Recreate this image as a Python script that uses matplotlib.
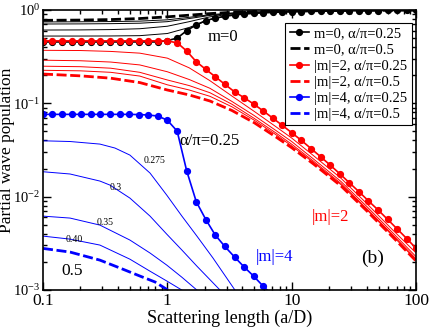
import matplotlib
matplotlib.use('Agg')
import matplotlib.pyplot as plt
from matplotlib.ticker import LogLocator, NullFormatter

plt.rcParams['font.family'] = ['Liberation Serif', 'DejaVu Serif']
plt.rcParams['mathtext.fontset'] = 'custom'
plt.rcParams['mathtext.rm'] = 'Liberation Serif'
plt.rcParams['mathtext.default'] = 'regular'

# malla de puntos (curvas con marcadores)
x_dots = [0.1, 0.119, 0.143, 0.170, 0.203, 0.243, 0.290, 0.346, 0.413, 0.493,
          0.589, 0.703, 0.839, 1.00, 1.20, 1.43, 1.71, 2.04, 2.43, 2.90,
          3.47, 4.14, 4.94, 5.90, 7.05, 8.42, 10.0, 12.0, 14.3, 17.1,
          20.4, 24.4, 29.1, 34.8, 41.5, 49.6, 59.2, 70.7, 84.4, 100.0]

m0_dots = [0.455] * 13 + [0.47, 0.50, 0.60, 0.695, 0.77, 0.82, 0.855, 0.885, 0.905,
                          0.92, 0.932, 0.942, 0.95, 0.956, 0.961, 0.966, 0.970, 0.974,
                          0.977, 0.980, 0.983, 0.985, 0.987, 0.989, 0.991, 0.993, 0.995]
m2_dots = [0.467] * 13 + [0.465, 0.446, 0.364, 0.279, 0.231, 0.193, 0.160, 0.133, 0.115,
                          0.0985, 0.083, 0.0695, 0.058, 0.0485, 0.0400, 0.0328, 0.0268,
                          0.0218, 0.0176, 0.0141, 0.0113, 0.0090, 0.0072, 0.0057,
                          0.00450, 0.00355, 0.00280]
m4_dots = [0.0762] * 10 + [0.0758, 0.075, 0.0731, 0.066, 0.0504, 0.0190, 0.00882,
                           0.00569, 0.00388, 0.00293, 0.00226, 0.00177, 0.00141,
                           0.00110, 0.00087]

# curvas finas m=0 y |m|=2 (alfa/pi = 0.275, 0.3, 0.35, 0.40) y discontinuas (0.5)
x_thin = [0.1, 0.2, 0.35, 0.6, 1.0, 1.5, 2.2, 3.3, 5, 7.5, 10, 15, 25, 40, 65, 100]

m0_thin = [
    [0.526, 0.526, 0.527, 0.531, 0.56, 0.65, 0.79, 0.885, 0.93, 0.952, 0.963, 0.975, 0.984, 0.989, 0.993, 0.996],
    [0.61, 0.612, 0.617, 0.63, 0.67, 0.75, 0.845, 0.905, 0.94, 0.958, 0.967, 0.977, 0.985, 0.990, 0.993, 0.996],
    [0.708, 0.71, 0.714, 0.722, 0.75, 0.81, 0.875, 0.92, 0.948, 0.962, 0.97, 0.979, 0.986, 0.990, 0.994, 0.996],
    [0.745, 0.748, 0.752, 0.76, 0.785, 0.835, 0.89, 0.93, 0.952, 0.965, 0.972, 0.98, 0.987, 0.991, 0.994, 0.996],
]
m0_dash = [0.775, 0.78, 0.79, 0.81, 0.845, 0.88, 0.915, 0.945, 0.962, 0.972, 0.978, 0.985, 0.99, 0.993, 0.995, 0.997]

m2_thin = [
    [0.37, 0.368, 0.36, 0.345, 0.305, 0.24, 0.175, 0.12, 0.082, 0.056, 0.0425, 0.0275, 0.0157, 0.0085, 0.0044, 0.0025],
    [0.29, 0.286, 0.277, 0.258, 0.218, 0.18, 0.145, 0.105, 0.074, 0.051, 0.0390, 0.0253, 0.0145, 0.0079, 0.0041, 0.00228],
    [0.25, 0.247, 0.238, 0.215, 0.178, 0.155, 0.13, 0.098, 0.069, 0.048, 0.0365, 0.0240, 0.0138, 0.0075, 0.0039, 0.00216],
    [0.226, 0.223, 0.215, 0.196, 0.158, 0.139, 0.119, 0.092, 0.066, 0.046, 0.0350, 0.0232, 0.0134, 0.0073, 0.0038, 0.00210],
]
m2_dash = [0.206, 0.197, 0.186, 0.167, 0.139, 0.123, 0.106, 0.084, 0.062, 0.0435, 0.0335, 0.0224, 0.0130, 0.0071, 0.0037, 0.00205]

# curvas finas |m|=4
m4_thin_x = [
    [0.1, 0.165, 0.287, 0.379, 0.50, 0.726, 0.989, 1.31, 1.73, 2.33, 3.5, 4.63],
    [0.1, 0.165, 0.287, 0.346, 0.50, 0.726, 0.989, 1.31, 1.73, 2.655, 3.845],
    [0.1, 0.165, 0.287, 0.50, 0.726, 0.989, 1.31, 1.73, 2.42],
    [0.1, 0.165, 0.287, 0.50, 0.726, 0.989, 1.31, 1.83],
]
m4_thin_y = [
    [0.0397, 0.0390, 0.0366, 0.0332, 0.0279, 0.0179, 0.0104, 0.00619, 0.00378, 0.00220, 0.000998, 0.000609],
    [0.0185, 0.0175, 0.0147, 0.0133, 0.00966, 0.00619, 0.00397, 0.00268, 0.00180, 0.000998, 0.000580],
    [0.00619, 0.00590, 0.00496, 0.00343, 0.00249, 0.00185, 0.00137, 0.000998, 0.000689],
    [0.00378, 0.00351, 0.00303, 0.00214, 0.00159, 0.00125, 0.000998, 0.000742],
]
m4_dash_x = [0.1, 0.165, 0.287, 0.416, 0.603, 0.796, 1.01, 1.39]
m4_dash_y = [0.00279, 0.00255, 0.00209, 0.00172, 0.00141, 0.00122, 0.000998, 0.000779]

xticks = [0.1, 1, 10, 100]
xtick_labels = ['0.1', '1', '10', '100']
yticks = [1e-3, 1e-2, 1e-1, 1]
ytick_labels = ['$10^{-3}$', '$10^{-2}$', '$10^{-1}$', '$10^{0}$']

fig = plt.figure(figsize=(4.3, 3.27), dpi=100)
ax = fig.add_axes([0.1, 0.1131, 0.8674, 0.8563])

dash = (3.6, 1.3)

# m = 0 (negro)
for y in m0_thin:
    ax.plot(x_thin, y, color='black', lw=0.7)
ax.plot(x_thin, m0_dash, color='black', lw=2, dashes=dash, label='m=0, α/π=0.5')
ax.plot(x_dots, m0_dots, color='black', lw=1.2, marker='o', ms=4.2,
        label='m=0, α/π=0.25')

# |m| = 2 (rojo)
for y in m2_thin:
    ax.plot(x_thin, y, color='red', lw=0.7)
ax.plot(x_thin, m2_dash, color='red', lw=2, dashes=dash, label='|m|=2, α/π=0.5')
ax.plot(x_dots, m2_dots, color='red', lw=1.2, marker='o', ms=4.2,
        label='|m|=2, α/π=0.25')

# |m| = 4 (azul)
for xs, ys in zip(m4_thin_x, m4_thin_y):
    ax.plot(xs, ys, color='blue', lw=0.7)
ax.plot(m4_dash_x, m4_dash_y, color='blue', lw=2, dashes=dash, label='|m|=4, α/π=0.5')
ax.plot(x_dots[:len(m4_dots)], m4_dots, color='blue', lw=1.2, marker='o', ms=4.2,
        label='|m|=4, α/π=0.25')

ax.set_xscale('log')
ax.set_yscale('log')
ax.set_xlim(0.1, 100)
ax.set_ylim(1e-3, 1)
ax.set_xticks(xticks)
ax.set_xticklabels(xtick_labels)
ax.set_yticks(yticks)
ax.set_yticklabels(ytick_labels)
ax.xaxis.set_minor_locator(LogLocator(base=10, subs=range(2, 10), numticks=20))
ax.yaxis.set_minor_locator(LogLocator(base=10, subs=range(2, 10), numticks=20))
ax.xaxis.set_minor_formatter(NullFormatter())
ax.yaxis.set_minor_formatter(NullFormatter())
ax.tick_params(which='both', direction='in', top=True, right=True, width=1)
ax.tick_params(which='major', length=6)
ax.tick_params(which='minor', length=3)
ax.tick_params(axis='x', labelsize=12.5, pad=2)
ax.tick_params(axis='y', labelsize=10.5, pad=2)
for s in ax.spines.values():
    s.set_linewidth(1.2)

ax.set_xlabel('Scattering length (a/D)', fontsize=13)
ax.set_ylabel('Partial wave population', fontsize=12.5)
ax.xaxis.set_label_coords(0.5, -0.072)
ax.yaxis.set_label_coords(-0.075, 0.5)

# orden de la leyenda como en la figura
h, l = ax.get_legend_handles_labels()
order = [1, 0, 3, 2, 5, 4]
leg = ax.legend([h[i] for i in order], [l[i] for i in order], loc='upper right',
                bbox_to_anchor=(0.989, 0.954), borderaxespad=0, fontsize=10.5,
                handlelength=1.3, handletextpad=0.4, labelspacing=0.2,
                borderpad=0.3, fancybox=False, framealpha=1, edgecolor='black')
leg.get_frame().set_linewidth(0.8)

ax.text(0.4826, 0.9036, 'm=0', transform=ax.transAxes, fontsize=12, ha='center', va='center')
ax.text(0.4477, 0.5321, 'α/π=0.25', transform=ax.transAxes, fontsize=12, ha='center', va='center')
ax.text(0.7694, 0.2607, '|m|=2', transform=ax.transAxes, fontsize=12, ha='center', va='center', color='red')
ax.text(0.622, 0.1179, '|m|=4', transform=ax.transAxes, fontsize=12, ha='center', va='center', color='blue')
ax.text(0.8847, 0.1143, '(b)', transform=ax.transAxes, fontsize=14, ha='center', va='center')
ax.text(0.0777, 0.0679, '0.5', transform=ax.transAxes, fontsize=12.5, ha='center', va='center')
ax.text(0.3003, 0.4643, '0.275', transform=ax.transAxes, fontsize=7, ha='center', va='center')
ax.text(0.1957, 0.3679, '0.3', transform=ax.transAxes, fontsize=7, ha='center', va='center')
ax.text(0.1662, 0.2429, '0.35', transform=ax.transAxes, fontsize=7, ha='center', va='center')
ax.text(0.0831, 0.1821, '0.40', transform=ax.transAxes, fontsize=7, ha='center', va='center')

plt.savefig('out.png', dpi=100)
